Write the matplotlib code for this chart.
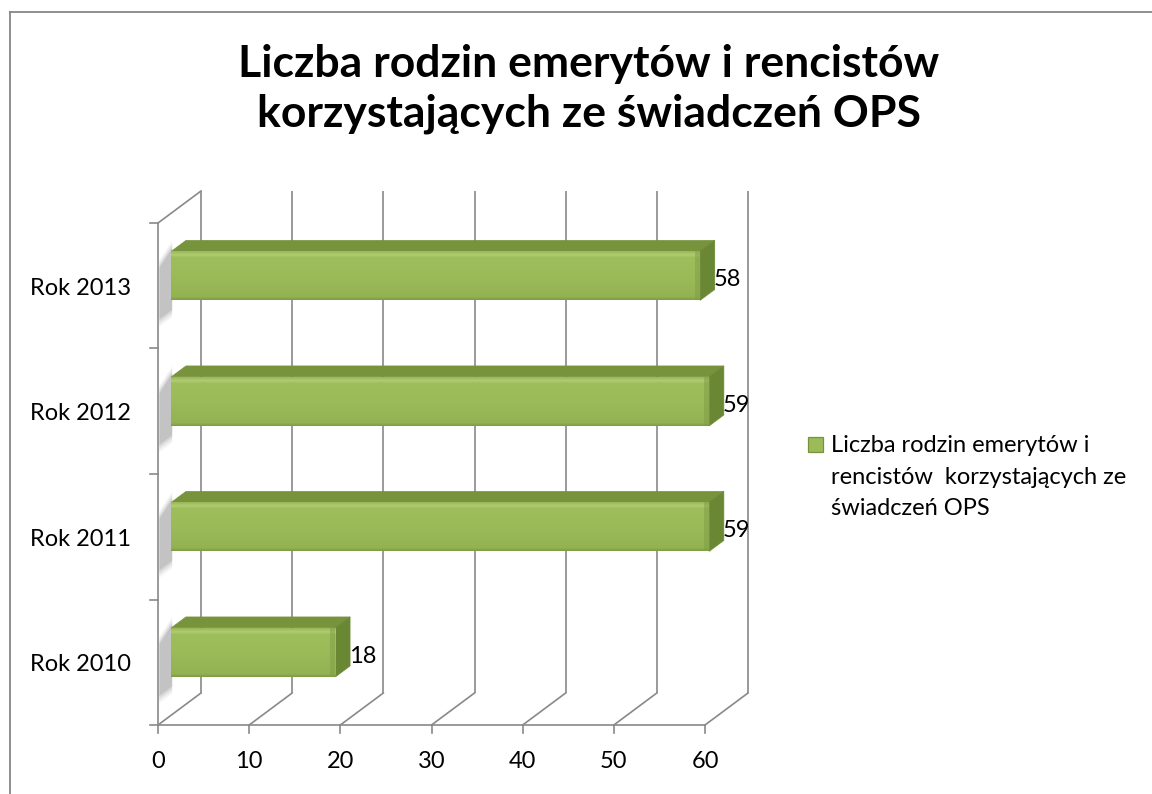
import numpy as np
import matplotlib
matplotlib.use("Agg")
import matplotlib.pyplot as plt
from matplotlib.patches import Polygon, Rectangle
from matplotlib.colors import LinearSegmentedColormap

# ---- data ----
categories = ["Rok 2010", "Rok 2011", "Rok 2012", "Rok 2013"]
values = [18, 59, 59, 58]
x_ticks = [0, 10, 20, 30, 40, 50, 60]
series_lines = ["Liczba rodzin emerytów i", "rencistów  korzystających ze", "świadczeń OPS"]
title_lines = ["Liczba rodzin emerytów i rencistów", "korzystających ze świadczeń OPS"]

plt.rcParams['font.family'] = ['Lato', 'DejaVu Sans']

W, H = 1152, 794
fig = plt.figure(figsize=(W / 100, H / 100), dpi=100)
fig.patch.set_facecolor("white")

# axes = front plane of the 3D box
x0p, x1p, y0p, y1p = 158, 705, 725, 223
ax = fig.add_axes([x0p / W, 1 - y0p / H, (x1p - x0p) / W, (y0p - y1p) / H])
ax.set_xlim(0, 60)
ax.set_ylim(-0.5, 3.5)
ax.axis("off")

ppx = (x1p - x0p) / 60.0      # px per value unit
ppy = (y0p - y1p) / 4.0       # px per category unit
DX = 43 / ppx                 # depth offset in value units
DY = 32 / ppy                 # depth offset in category units

grid_c = "#898989"
lw = 1.2
fs = 17

ymin, ymax = -0.5, 3.5
for t in x_ticks:
    ax.plot([t + DX, t + DX], [ymin + DY, ymax + DY], color=grid_c, lw=lw,
            clip_on=False, zorder=1, solid_capstyle="butt")
    ax.plot([t, t + DX], [ymin, ymin + DY], color=grid_c, lw=lw,
            clip_on=False, zorder=1)
    ax.plot([t, t], [ymin, ymin - 8 / ppy], color=grid_c, lw=lw,
            clip_on=False, zorder=1)
    ax.text(t, ymin - 36 / ppy, f"{t}", ha="center", va="center",
            fontsize=fs, color="#000000")

ax.plot([0, 60], [ymin, ymin], color=grid_c, lw=lw, clip_on=False, zorder=2)
ax.plot([0, 0], [ymin, ymax], color=grid_c, lw=lw, clip_on=False, zorder=2)
ax.plot([0, DX], [ymax, ymax + DY], color=grid_c, lw=lw, clip_on=False, zorder=1)
for k in range(5):
    yy = ymin + k
    ax.plot([0, -8 / ppx], [yy, yy], color=grid_c, lw=lw, clip_on=False, zorder=2)

for i, c in enumerate(categories):
    ax.text(-27 / ppx, i - 0.02, c, ha="right", va="center",
            fontsize=fs, color="#000000")

# bars
d0, d1 = 0.31, 0.65
h = 49 / ppy / 2
front_cmap = LinearSegmentedColormap.from_list(
    "front", [(0.0, "#7f9c46"), (0.06, "#93b353"), (0.5, "#9bbb59"),
              (0.88, "#9ebe5c"), (0.93, "#b1cd74"), (1.0, "#9ab857")])
top_c = "#77933c"
side_c = "#6a8834"

for i, v in enumerate(values):
    c = i
    # soft shadow on left wall
    for k, a in enumerate([0.06, 0.08, 0.11, 0.15]):
        e = (3 - k) * 0.02
        sh = Polygon([
            (0.03 * DX, c - h - 0.08 - e + 0.03 * DY),
            ((d0 + 0.02) * DX, c - h - 0.08 - e + (d0 + 0.02) * DY),
            ((d0 + 0.02) * DX, c + h + 0.02 + e + (d0 + 0.02) * DY),
            (0.03 * DX, c + h - 0.06 + e + 0.03 * DY),
        ], closed=True, facecolor="#555555", edgecolor="none", alpha=a,
            zorder=3, clip_on=False)
        ax.add_patch(sh)

    fy0 = c - h + d0 * DY
    fy1 = c + h + d0 * DY
    fx0 = d0 * DX
    fx1 = v + d0 * DX
    top = Polygon([(fx0, fy1), (fx1, fy1), (v + d1 * DX, c + h + d1 * DY),
                   (d1 * DX, c + h + d1 * DY)], closed=True,
                  facecolor=top_c, edgecolor=top_c, lw=0.5, zorder=4, clip_on=False)
    ax.add_patch(top)
    side = Polygon([(fx1, fy0), (fx1, fy1), (v + d1 * DX, c + h + d1 * DY),
                    (v + d1 * DX, c - h + d1 * DY)], closed=True,
                   facecolor=side_c, edgecolor=side_c, lw=0.5, zorder=4, clip_on=False)
    ax.add_patch(side)
    rect = Rectangle((fx0, fy0), fx1 - fx0, fy1 - fy0, facecolor="#9bbb59",
                     edgecolor="none", zorder=5, clip_on=False)
    ax.add_patch(rect)
    grad = np.linspace(0, 1, 64).reshape(-1, 1)
    im = ax.imshow(grad, cmap=front_cmap, aspect="auto", origin="lower",
                   extent=(fx0, fx1, fy0, fy1), zorder=5.5, interpolation="bilinear")
    im.set_clip_path(rect)
    bev = Rectangle((fx1 - 5 / ppx, fy0), 5 / ppx, fy1 - fy0, facecolor="#7f9d45",
                    edgecolor="none", zorder=6, clip_on=False, alpha=0.5)
    ax.add_patch(bev)
    ax.text(v + d1 * DX - 1 / ppx, c + d0 * DY - 0.03, f"{v}", ha="left",
            va="center", fontsize=fs, color="#000000", zorder=7)

ax.set_xlim(0, 60)
ax.set_ylim(-0.5, 3.5)

# title (two centred lines, baselines at 77 px and 127 px)
for line, base in zip(title_lines, [77, 127]):
    fig.text(589 / W, 1 - base / H, line, ha="center", va="baseline",
             fontsize=32, fontweight="bold", color="#000000")

# legend
lx, ly, ls = 808, 437, 15
fig.patches.append(Rectangle((lx / W, 1 - (ly + ls) / H), ls / W, ls / H,
                             transform=fig.transFigure, facecolor="#9bbb59",
                             edgecolor="#76923c", lw=0.9))
for line, base in zip(series_lines, [452, 484, 515]):
    fig.text(831 / W, 1 - base / H, line, ha="left", va="baseline",
             fontsize=fs, color="#000000")

# chart border
fig.add_artist(plt.Line2D([10 / W, 10 / W], [0, 1 - 12 / H], transform=fig.transFigure,
                          color="#868686", lw=1.3))
fig.add_artist(plt.Line2D([10 / W, 1], [1 - 12 / H, 1 - 12 / H], transform=fig.transFigure,
                          color="#868686", lw=1.3))

fig.savefig("out.png", dpi=100)
